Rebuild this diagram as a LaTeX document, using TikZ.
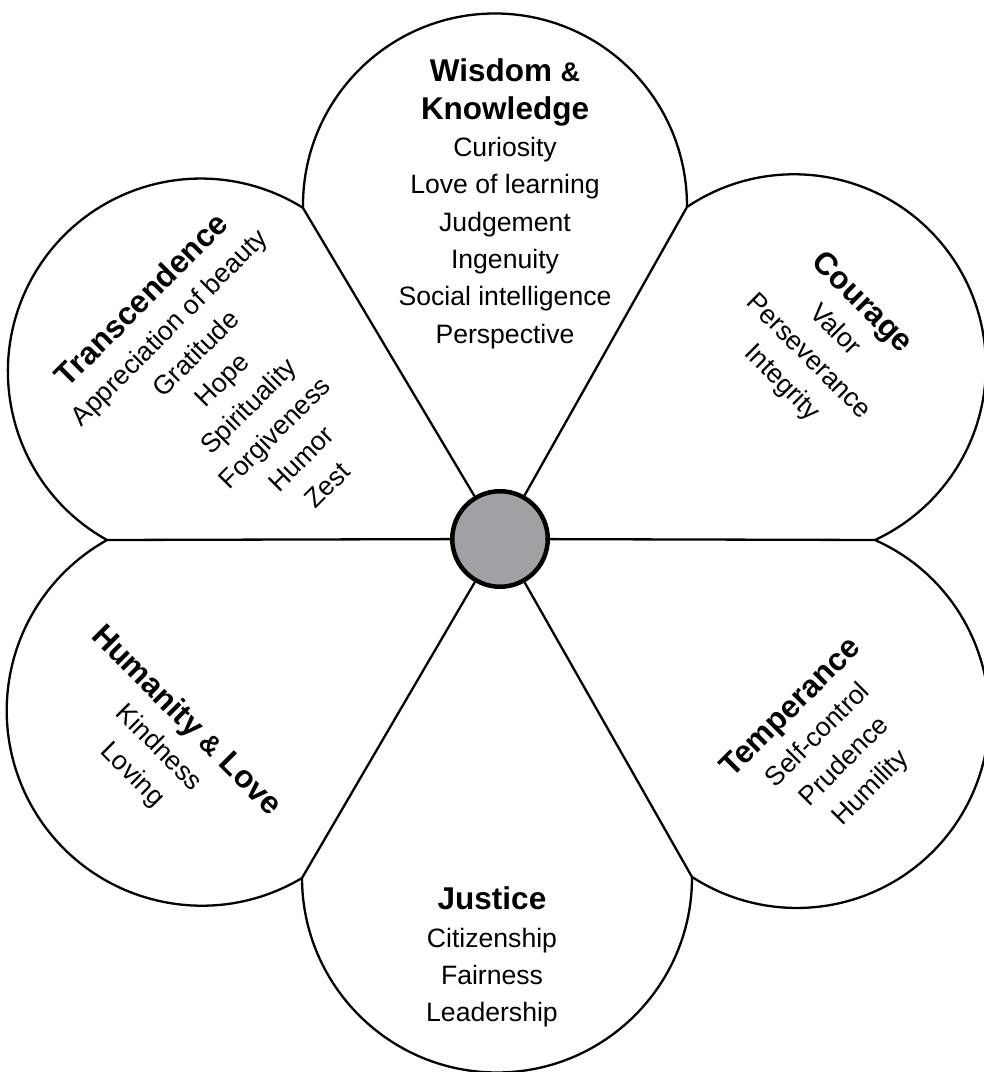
\documentclass[tikz,border=0pt]{standalone}
\usepackage{fontspec}
\setmainfont{Liberation Sans}
\usetikzlibrary{calc}
\definecolor{dotgray}{RGB}{160,161,164}
\newcommand\ttl{\fontsize{31.5}{37.3}\selectfont\bfseries}
\newcommand\amp{{\fontsize{27}{37.3}\selectfont\bfseries\&}}
\begin{document}
\begin{tikzpicture}[x=1pt,y=1pt,
  petal/.style={line width=2.3pt, line join=round},
  spoke/.style={line width=2.3pt},
  ln/.style={inner sep=0pt, text height=20pt, text depth=0pt, anchor=center,
             font=\fontsize{26.6}{37.3}\selectfont},
  hub/.style={circle, draw, fill=dotgray, line width=4.5pt, minimum size=95.5pt, inner sep=0pt}]
\useasboundingbox (0,0) rectangle (984,1072);
\fill[white] (0,0) rectangle (984,1072);
% junctions
\coordinate (J1) at (875,532);
\coordinate (J2) at (687,865);
\coordinate (J3) at (303,864);
\coordinate (J4) at (107,532);
\coordinate (J5) at (302,194);
\coordinate (J6) at (692,195);
% petal arcs
\draw[petal] (J3) arc[start angle=180.75, delta angle=-181.2, radius=192];
\draw[petal] (J2) arc[start angle=123.95, delta angle=-189, radius=191.8];
\draw[petal] (J1) arc[start angle=66, delta angle=-189, radius=192.3];
\draw[petal] (J6) arc[start angle=0.15, delta angle=-180, radius=195];
\draw[petal] (J5) arc[start angle=300.9, delta angle=-181.8, radius=195.1];
\draw[petal] (J4) arc[start angle=240.9, delta angle=-183, radius=192.9];
% hub and spokes
\node[hub] (C) at (500,533) {};
\foreach \j in {J1,J2,J3,J4,J5,J6} \draw[spoke] (C) -- (\j);
% Wisdom & Knowledge
\node[ln] (w1) at (505,1000) {\ttl Wisdom \amp};
\node[ln] (w2) at (505,962.7) {\ttl Knowledge};
\node[ln] (w3) at (505,925.4) {Curiosity};
\node[ln] (w4) at (505,888.1) {Love of learning};
\node[ln] (w5) at (505,850.8) {Judgement};
\node[ln] (w6) at (505,813.5) {Ingenuity};
\node[ln] (w7) at (505,776.2) {Social intelligence};
\node[ln] (w8) at (505,738.9) {Perspective};
% Justice
\node[ln] (j1) at (492,172) {\ttl Justice};
\node[ln] (j2) at (492,134.7) {Citizenship};
\node[ln] (j3) at (492,97.4) {Fairness};
\node[ln] (j4) at (492,60.1) {Leadership};
% Transcendence
\begin{scope}[shift={(142,772)}, rotate=45, transform shape]
\node[ln] (t1) at (0,0) {\ttl Transcendence};
\node[ln] (t2) at (0,-37.3) {Appreciation of beauty};
\node[ln] (t3) at (0,-74.6) {Gratitude};
\node[ln] (t4) at (0,-111.9) {Hope};
\node[ln] (t5) at (0,-149.2) {Spirituality};
\node[ln] (t6) at (0,-186.5) {Forgiveness};
\node[ln] (t7) at (0,-223.8) {Humor};
\node[ln] (t8) at (0,-261.1) {Zest};
\end{scope}
% Courage
\begin{scope}[shift={(863,770)}, rotate=-45, transform shape]
\node[ln] (c1) at (0,0) {\ttl Courage};
\node[ln] (c2) at (0,-37.3) {Valor};
\node[ln] (c3) at (0,-74.6) {Perseverance};
\node[ln] (c4) at (0,-111.9) {Integrity};
\end{scope}
% Temperance
\begin{scope}[shift={(790,365)}, rotate=45, transform shape]
\node[ln] (p1) at (0,0) {\ttl Temperance};
\node[ln] (p2) at (0,-37.3) {Self-control};
\node[ln] (p3) at (0,-74.6) {Prudence};
\node[ln] (p4) at (0,-111.9) {Humility};
\end{scope}
% Humanity & Love
\begin{scope}[shift={(187,352)}, rotate=-45, transform shape]
\node[ln] (h1) at (0,0) {\ttl Humanity \amp{} Love};
\node[ln] (h2) at (0,-37.3) {Kindness};
\node[ln] (h3) at (0,-74.6) {Loving};
\end{scope}
\end{tikzpicture}
\end{document}
